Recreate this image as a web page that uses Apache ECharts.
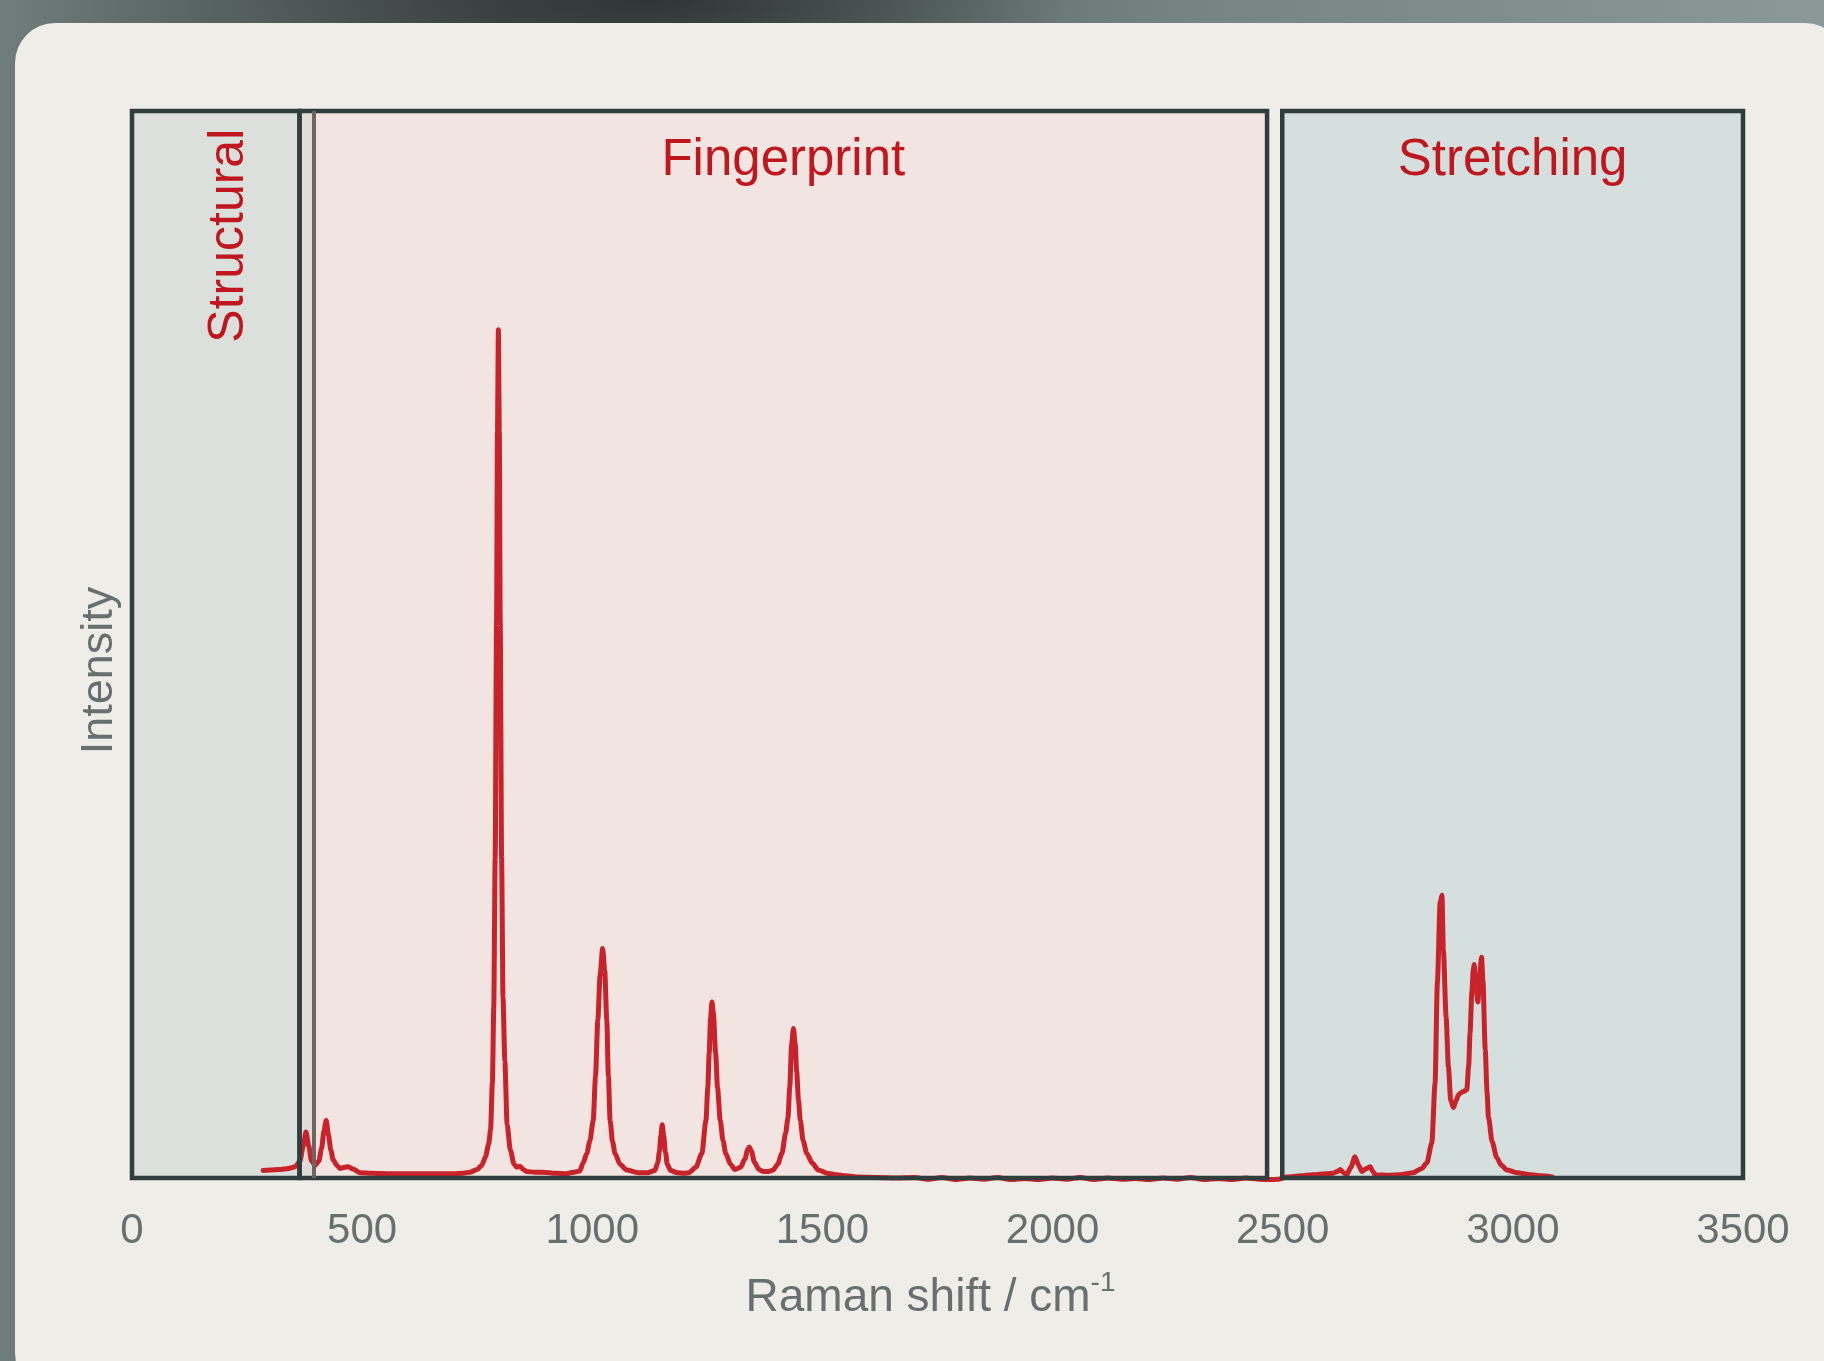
<!DOCTYPE html>
<html>
<head>
<meta charset="utf-8">
<script src="https://cdn.jsdelivr.net/npm/echarts@6/dist/echarts.min.js"></script>
<style>
  html, body { margin: 0; padding: 0; width: 1824px; height: 1361px; overflow: hidden; }
  body {
    background-color: #6b7877;
    background-image:
      radial-gradient(ellipse 420px 110px at 650px 0px, rgba(40,47,47,0.85) 0%, rgba(40,47,47,0) 100%),
      linear-gradient(90deg, #6f7d7c 0%, #56625f 12%, #4b5555 28%, #5a6766 45%, #758382 65%, #8a9998 100%);
  }
  #card { position: absolute; left: 15px; top: 23px; width: 1830px; height: 1370px; background: #eeede8; border-radius: 40px; }
  #chart { position: absolute; left: 0; top: 0; width: 1824px; height: 1361px; }
</style>
</head>
<body>
<div id="card"></div>
<div id="chart"></div>
<script>
// ---- data ----
const xTicks = [0, 500, 1000, 1500, 2000, 2500, 3000, 3500];

// Regions (Raman shift, cm^-1)
const regionNames = ['Structural', 'Fingerprint', 'Stretching'];
const regionStart = [0, 364, 2499];
const regionEnd   = [364, 2466, 3500];
const gapStart = 364, gapEnd = 394;

// Spectrum: low-wavenumber part
const shiftLow = [285, 300, 320, 340, 355, 365, 372, 378, 384, 390, 398, 406, 412, 417, 422, 427, 432, 437, 445, 452, 462, 470, 480, 495, 520, 560, 600, 650, 700, 720, 735, 750];
const intLow   = [0.7, 0.75, 0.8, 0.9, 1.06, 1.6, 3.0, 4.3, 3.0, 1.6, 1.2, 1.6, 2.8, 4.4, 5.4, 4.0, 2.6, 1.7, 1.2, 0.9, 1.0, 1.06, 0.85, 0.5, 0.45, 0.4, 0.4, 0.4, 0.4, 0.45, 0.55, 0.8];

// Fingerprint part
const shiftFp = [760, 768, 775, 779, 783, 786, 789, 792, 794, 796, 798, 800, 803, 806, 810, 815, 822, 830, 836, 843, 850, 858, 875, 893, 920, 944, 960, 973,
  980, 988, 995, 1002, 1007, 1012, 1017, 1022.5, 1027, 1031.5, 1035, 1038.7, 1044, 1049.5, 1060, 1075, 1100, 1120,
  1136, 1142, 1146, 1149, 1152, 1155, 1159, 1163, 1170, 1185, 1200, 1210, 1225,
  1238, 1247, 1251, 1254, 1257, 1260, 1263, 1268, 1272, 1278, 1284, 1290, 1300, 1310, 1322, 1332, 1337, 1341, 1346, 1352, 1362, 1372, 1383, 1393, 1403,
  1412, 1420, 1425, 1429, 1433, 1437, 1441, 1444, 1448, 1452, 1458, 1466, 1478, 1491, 1510, 1530, 1550, 1580, 1620, 1660];
const intFp = [1.2, 2.0, 3.2, 4.5, 9, 16, 30, 52, 70, 79.5, 70, 52, 30, 17, 11, 5, 2.6, 1.3, 1.0, 1.1, 0.8, 0.6, 0.55, 0.55, 0.45, 0.4, 0.55, 0.65,
  1.4, 2.3, 3.5, 5.4, 9.5, 14.8, 19, 21.5, 19.5, 14.8, 9.5, 5.4, 3.4, 2.3, 1.3, 0.75, 0.5, 0.5,
  0.7, 1.4, 2.5, 4.0, 5.0, 4.0, 2.4, 1.3, 0.7, 0.5, 0.45, 0.5, 1.0,
  2.3, 5.4, 8.5, 11.7, 15, 16.5, 15.5, 11.7, 8.5, 5.4, 3.5, 2.3, 1.3, 0.8, 1.0, 1.8, 2.6, 2.9, 2.5, 1.5, 0.8, 0.6, 0.6, 0.75, 1.3,
  2.3, 4.2, 5.6, 8.5, 12.5, 14.0, 12.5, 10, 7.3, 5.4, 3.5, 2.3, 1.4, 0.75, 0.45, 0.3, 0.2, 0.1, 0.05, 0.0];

// Silent range (near baseline)
const shiftMid = [1700, 1730, 1760, 1790, 1820, 1850, 1880, 1910, 1940, 1970, 2000, 2030, 2060, 2090, 2120, 2150, 2180, 2210, 2240, 2270, 2300, 2330, 2360, 2390, 2420, 2450, 2470, 2490];
const intMid   = [0.05, -0.12, 0.05, -0.15, 0.0, -0.12, 0.05, -0.15, -0.05, -0.15, 0.0, -0.12, 0.05, -0.15, 0.0, -0.12, -0.05, -0.15, 0.0, -0.12, 0.05, -0.15, -0.05, -0.15, 0.0, -0.12, -0.15, -0.12];

// Stretching part
const shiftSt = [2509, 2540, 2566, 2595, 2610, 2618, 2625, 2632, 2639, 2648, 2657, 2665, 2672, 2682, 2690, 2696, 2701, 2730, 2755, 2783, 2802, 2813, 2824, 2831, 2836, 2842, 2846, 2849, 2855, 2860, 2865, 2871, 2876, 2882, 2887, 2892, 2897, 2900, 2904, 2907, 2911, 2914, 2916, 2920, 2924, 2928, 2932, 2935, 2940, 2944, 2947, 2955, 2965, 2975, 2987, 3009, 3040, 3060, 3085];
const intSt   = [0.1, 0.2, 0.3, 0.4, 0.45, 0.6, 0.8, 0.5, 0.3, 1.0, 2.0, 1.2, 0.6, 0.9, 1.06, 0.6, 0.3, 0.25, 0.3, 0.5, 0.9, 1.4, 3.3, 8.9, 18.3, 25.8, 26.5, 21.4, 15.1, 10.4, 7.3, 6.6, 7.2, 7.8, 8.0, 8.1, 8.2, 8.3, 10.5, 13.6, 17.5, 19.5, 20.0, 18, 16.5, 19, 20.7, 18.5, 12, 8, 5.7, 3.4, 1.9, 1.2, 0.75, 0.5, 0.3, 0.2, 0.1];

// ---- build ----
function pairs(xs, ys) { return xs.map((x, i) => [x, ys[i]]); }
const spectrum = [].concat(pairs(shiftLow, intLow), pairs(shiftFp, intFp), pairs(shiftMid, intMid), pairs(shiftSt, intSt));

const FONT = "'Liberation Sans', Arial, Helvetica, sans-serif";
const RED = '#c0161e';
const GREY_TEXT = '#67706f';
const DARK = '#2f3e3d';
const fills = ['#dbe0dc', '#f2e4e1', '#d5dfde'];

const chart = echarts.init(document.getElementById('chart'), null, { renderer: 'canvas' });

const fillAreas = regionNames.map((n, i) => [
  { xAxis: regionStart[i], yAxis: 0, itemStyle: { color: fills[i] } },
  { xAxis: regionEnd[i], yAxis: 100 }
]);
fillAreas.push([{ xAxis: gapStart, yAxis: 0, itemStyle: { color: '#e2dcd9' } }, { xAxis: gapEnd, yAxis: 100 }]);

const labelFor = (i) => {
  if (i === 0) {
    return { show: true, position: 'insideTop', distance: 17, rotate: 90, align: 'right', verticalAlign: 'middle',
      fontSize: 50, color: RED, fontFamily: FONT, offset: [-3, 13] };
  }
  return { show: true, position: 'insideTop', distance: 27, fontSize: 51, color: RED, fontFamily: FONT };
};

const borderAreas = regionNames.map((n, i) => [
  { name: n, xAxis: regionStart[i], yAxis: 0, label: labelFor(i) },
  { xAxis: regionEnd[i], yAxis: 100 }
]);

chart.setOption({
  backgroundColor: 'transparent',
  animation: false,
  grid: { left: 132, top: 111, width: 1611, height: 1067 },
  xAxis: {
    type: 'value', min: 0, max: 3500, interval: 500,
    name: 'Raman shift / cm{sup|-1}',
    nameLocation: 'middle', nameGap: 91,
    nameTextStyle: { fontSize: 46, color: GREY_TEXT, fontFamily: FONT, padding: [0, 14, 0, 0],
      rich: { sup: { fontSize: 28, color: GREY_TEXT, fontFamily: FONT, verticalAlign: 'top', padding: [0, 0, 30, 0] } } },
    axisLine: { show: true, lineStyle: { color: '#a3a6a2', width: 2 } },
    axisTick: { show: false },
    splitLine: { show: false },
    axisLabel: { fontSize: 42, color: GREY_TEXT, fontFamily: FONT, margin: 32,
      formatter: (v) => xTicks.indexOf(v) >= 0 ? String(v) : '' }
  },
  yAxis: {
    type: 'value', min: 0, max: 100,
    name: 'Intensity', nameLocation: 'middle', nameGap: 10,
    nameTextStyle: { fontSize: 45, color: GREY_TEXT, fontFamily: FONT, padding: [0, 52, 0, 0] },
    axisLine: { show: false }, axisTick: { show: false }, axisLabel: { show: false }, splitLine: { show: false }
  },
  series: [
    {
      type: 'line', data: [], silent: true, z: 1,
      markArea: { silent: true, z: 1, data: fillAreas, label: { show: false } }
    },
    {
      type: 'line', data: spectrum, z: 3, clip: false,
      showSymbol: false, symbol: 'none', smooth: 0.25, smoothMonotone: 'x',
      lineStyle: { color: '#c8222a', width: 5, join: 'round', cap: 'round' }
    },
    {
      type: 'line', data: [], silent: true, z: 5,
      markArea: {
        silent: true, z: 5,
        itemStyle: { color: 'rgba(0,0,0,0)', borderColor: DARK, borderWidth: 4.5 },
        data: borderAreas
      },
      markLine: {
        silent: true, z: 6, symbol: 'none', label: { show: false },
        lineStyle: { color: '#6b6663', width: 4, type: 'solid' },
        data: [{ xAxis: gapEnd }]
      }
    }
  ]
});
</script>
</body>
</html>
